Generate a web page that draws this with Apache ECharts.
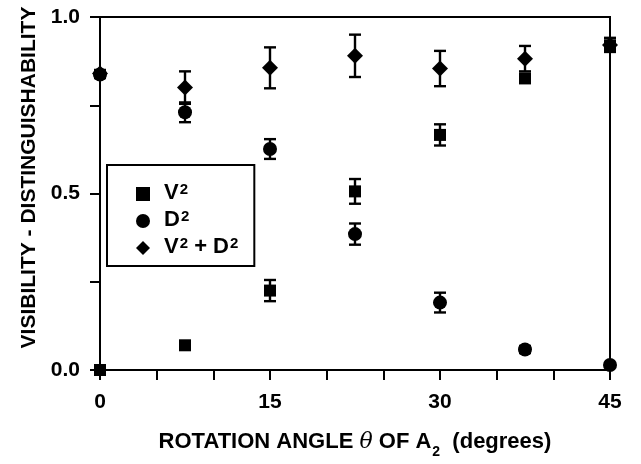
<!DOCTYPE html>
<html><head><meta charset="utf-8">
<script src="https://cdn.jsdelivr.net/npm/echarts@6/dist/echarts.min.js"></script>
<style>html,body{margin:0;padding:0;background:#fff}#c{width:641px;height:464px}</style>
</head><body><div id="c"></div>
<script>
const angles = [0, 7.5, 15, 22.5, 30, 37.5, 45];
const v2 = [0, 0.07, 0.225, 0.506, 0.666, 0.826, 0.92];
const v2Err = [0, 0.01, 0.03, 0.035, 0.03, 0.012, 0.01];
const d2 = [0.837, 0.73, 0.626, 0.385, 0.191, 0.058, 0.014];
const d2Err = [0.01, 0.028, 0.028, 0.03, 0.028, 0.01, 0];
const sum = [0.84, 0.80, 0.856, 0.89, 0.854, 0.882, 0.921];
const sumErr = [0.01, 0.046, 0.058, 0.06, 0.05, 0.036, 0.02];
const xTickLabels = ['0', '15', '30', '45'];
const yTickLabels = ['0.0', '0.5', '1.0'];
const seriesNames = ['V2', 'D2', 'V2+D2'];
const legendLabels = {
  'V2': '{a|V}{s|2}',
  'D2': '{a|D}{s|2}',
  'V2+D2': '{a|V}{s|2}{a| + D}{s|2}'
};

const FONT = 'Liberation Sans, Arial, sans-serif';
function pts(vals) { return angles.map((a, i) => [a, vals[i]]); }
function errData(vals, errs) { return angles.map((a, i) => [a, vals[i] - errs[i], vals[i] + errs[i]]); }
function errSeries(vals, errs) {
  return {
    type: 'custom', clip: false, silent: true, z: 3,
    data: errData(vals, errs),
    renderItem: function (params, api) {
      const x = api.value(0);
      const lo = api.coord([x, api.value(1)]);
      const hi = api.coord([x, api.value(2)]);
      const hw = 6;
      const st = { stroke: '#000', lineWidth: 2.4 };
      return { type: 'group', children: [
        { type: 'line', shape: { x1: lo[0], y1: lo[1], x2: hi[0], y2: hi[1] }, style: st },
        { type: 'line', shape: { x1: lo[0] - hw, y1: lo[1], x2: lo[0] + hw, y2: lo[1] }, style: st },
        { type: 'line', shape: { x1: hi[0] - hw, y1: hi[1], x2: hi[0] + hw, y2: hi[1] }, style: st }
      ]};
    }
  };
}
const supRich = {
  a: { fontSize: 22, fontWeight: 'bold', fontFamily: FONT, color: '#000', lineHeight: 24, verticalAlign: 'top' },
  s: { fontSize: 15, fontWeight: 'bold', fontFamily: FONT, color: '#000', lineHeight: 15, verticalAlign: 'top', padding: [0, 0, 0, 1] }
};
const chart = echarts.init(document.getElementById('c'), null, { renderer: 'canvas' });
chart.setOption({
  animation: false,
  backgroundColor: '#fff',
  textStyle: { fontFamily: FONT, fontWeight: 'bold', color: '#000' },
  grid: { left: 100, right: 31, top: 17, bottom: 91, show: true, borderColor: '#000', borderWidth: 2 },
  xAxis: {
    type: 'value', min: 0, max: 45, interval: 5,
    axisLine: { lineStyle: { color: '#000', width: 2 } },
    axisTick: { inside: false, length: 10, lineStyle: { color: '#000', width: 2 } },
    splitLine: { show: false },
    axisLabel: { margin: 22, fontSize: 21, fontWeight: 'bold', color: '#000', fontFamily: FONT,
      formatter: v => (v % 15 === 0 ? xTickLabels[v / 15] : '') },
    name: '{a|ROTATION ANGLE }{t|θ}{a| OF A}{s|2}{a|  (degrees)}',
    nameLocation: 'middle', nameGap: 61,
    nameTextStyle: { rich: {
      a: { fontSize: 22, fontWeight: 'bold', fontFamily: FONT, color: '#000', lineHeight: 26, verticalAlign: 'top' },
      t: { fontSize: 22, fontStyle: 'italic', fontWeight: 'normal', fontFamily: 'DejaVu Serif, serif', color: '#000', lineHeight: 26, verticalAlign: 'top' },
      s: { fontSize: 14, fontWeight: 'bold', fontFamily: FONT, color: '#000', lineHeight: 14, verticalAlign: 'top', padding: [14, 0, 0, 1] }
    } }
  },
  yAxis: {
    type: 'value', min: 0, max: 1, interval: 0.25,
    axisLine: { show: true, lineStyle: { color: '#000', width: 2 } },
    axisTick: { show: true, inside: false, length: 10, lineStyle: { color: '#000', width: 2 } },
    splitLine: { show: false },
    axisLabel: { margin: 20, fontSize: 21, fontWeight: 'bold', color: '#000', fontFamily: FONT,
      formatter: v => (Math.abs((v * 2) - Math.round(v * 2)) < 1e-9 ? yTickLabels[Math.round(v * 2)] : '') },
    name: 'VISIBILITY - DISTINGUISHABILITY',
    nameLocation: 'middle', nameGap: 60,
    nameTextStyle: { fontSize: 21, fontWeight: 'bold', color: '#000', fontFamily: FONT, padding: [0, 0, 0, 32] }
  },
  legend: {
    orient: 'vertical', left: 107, top: 165,
    data: seriesNames,
    formatter: n => legendLabels[n],
    itemWidth: 14, itemHeight: 14, itemGap: 5,
    borderColor: '#000', borderWidth: 2, borderRadius: 0,
    padding: [17, 16, 8, 29],
    textStyle: { fontSize: 22, fontWeight: 'bold', color: '#000', fontFamily: FONT, padding: [0, 0, 0, 9], rich: supRich }
  },
  series: [
    errSeries(v2, v2Err), errSeries(d2, d2Err), errSeries(sum, sumErr),
    { name: seriesNames[0], type: 'scatter', symbol: 'rect', symbolSize: 12, clip: false, z: 4,
      itemStyle: { color: '#000', opacity: 1 }, data: pts(v2) },
    { name: seriesNames[1], type: 'scatter', symbol: 'circle', symbolSize: 14, clip: false, z: 4,
      itemStyle: { color: '#000', opacity: 1 }, data: pts(d2) },
    { name: seriesNames[2], type: 'scatter', symbol: 'diamond', symbolSize: 16, clip: false, z: 4,
      itemStyle: { color: '#000', opacity: 1 }, data: pts(sum) }
  ]
});
</script></body></html>
